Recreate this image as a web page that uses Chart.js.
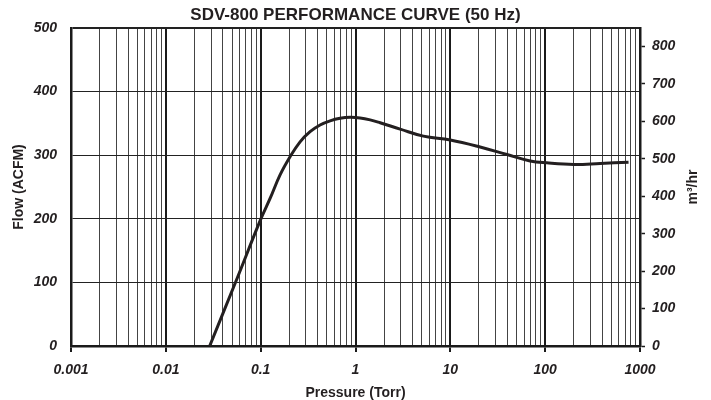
<!DOCTYPE html>
<html>
<head>
<meta charset="utf-8">
<script src="https://cdn.jsdelivr.net/npm/chart.js@4.4.1/dist/chart.umd.min.js"></script>
<style>
  html, body { margin: 0; padding: 0; background: #fff; }
  #wrap { width: 711px; height: 400px; position: relative; }
</style>
</head>
<body>
<div id="wrap"><canvas id="grafico"></canvas></div>
<script>
// valores
const pressaoTorr = [0.029, 0.0546, 0.1, 0.1257, 0.1602, 0.2042, 0.2604, 0.3319, 0.4232, 0.5396, 0.688, 0.877, 1.118, 1.426, 1.818, 2.96, 5.2, 10, 20.6, 39.5, 69.5, 104, 200, 380, 757];
const vazaoACFM = [0, 101, 199, 232, 269, 297.5, 321, 337, 347.5, 354, 358, 359.5, 358.5, 355.5, 351, 341, 330, 324, 313, 301, 291, 288, 285.5, 287, 289];
const ticksVazao = [0, 100, 200, 300, 400, 500];
const ticksM3h = [0, 100, 200, 300, 400, 500, 600, 700, 800];
const decadas = [0.001, 0.01, 0.1, 1, 10, 100, 1000];
const fatorM3h = 1.699; // ACFM -> m3/hr

const fonte = '"Liberation Sans", Arial, sans-serif';
const corTexto = '#231f20';

function ehDecada(v) {
    const l = Math.log10(v);
    return Math.abs(l - Math.round(l)) < 1e-6;
}

// posições das linhas verticais: 1..9 em cada década
function ticksLog() {
    const lista = [];
    for (let i = 0; i < decadas.length - 1; i++) {
        for (let m = 1; m <= 9; m++) {
            const v = +(m * decadas[i]).toPrecision(2);
            lista.push({ value: v, major: m === 1 });
        }
    }
    lista.push({ value: decadas[decadas.length - 1], major: true });
    return lista;
}

const pontos = pressaoTorr.map((p, i) => ({ x: p, y: vazaoACFM[i] }));

const tituloDireita = {
    id: 'tituloDireita',
    afterDraw(chart) {
        const ctx = chart.ctx;
        const area = chart.chartArea;
        ctx.save();
        ctx.translate(chart.width - 18, (area.top + area.bottom) / 2);
        ctx.rotate(-Math.PI / 2);
        ctx.font = 'bold 14px ' + fonte;
        ctx.fillStyle = corTexto;
        ctx.textAlign = 'center';
        ctx.textBaseline = 'middle';
        ctx.fillText('m³/hr', 0, 0);
        ctx.restore();
    }
};

new Chart(document.getElementById('grafico').getContext('2d'), {
    type: 'line',
    data: {
        datasets: [{
            label: 'Flow',
            data: pontos,
            borderColor: '#231f20',
            borderWidth: 3,
            pointRadius: 0,
            tension: 0.4,
            fill: false
        }]
    },
    options: {
        responsive: true,
        maintainAspectRatio: false,
        animation: false,
        layout: { padding: 0 },
        plugins: {
            legend: { display: false },
            tooltip: { enabled: false },
            title: {
                display: true,
                text: 'SDV-800 PERFORMANCE CURVE (50 Hz)',
                color: corTexto,
                font: { family: fonte, size: 17, weight: 'bold', lineHeight: 1 },
                padding: { top: 7, bottom: 4 }
            }
        },
        scales: {
            x: {
                type: 'logarithmic',
                min: 0.001,
                max: 1000,
                afterBuildTicks: (scale) => { scale.ticks = ticksLog(); },
                afterFit: (scale) => { scale.height = 54; },
                ticks: {
                    autoSkip: false,
                    maxRotation: 0,
                    padding: 10,
                    color: corTexto,
                    font: { family: fonte, size: 14, weight: 'bold', style: 'italic' },
                    callback: (v) => ehDecada(v) ? String(Number(Number(v).toPrecision(1))) : ''
                },
                grid: {
                    color: (c) => c.tick && ehDecada(c.tick.value) ? '#1a1a1a' : '#444',
                    lineWidth: (c) => c.tick && ehDecada(c.tick.value) ? 2 : 1,
                    tickColor: (c) => c.tick && ehDecada(c.tick.value) ? '#1a1a1a' : 'rgba(0,0,0,0)',
                    tickLength: 6
                },
                border: { color: '#1a1a1a', width: 2.5 },
                title: {
                    display: true,
                    text: 'Pressure (Torr)',
                    color: corTexto,
                    font: { family: fonte, size: 14, weight: 'bold', lineHeight: 1 },
                    padding: { top: 0, bottom: 0 }
                }
            },
            y: {
                position: 'left',
                min: 0,
                max: 500,
                afterBuildTicks: (scale) => { scale.ticks = ticksVazao.map(v => ({ value: v })); },
                afterFit: (scale) => { scale.width = 71; },
                ticks: {
                    padding: 14,
                    color: corTexto,
                    font: { family: fonte, size: 14, weight: 'bold', style: 'italic' }
                },
                grid: {
                    drawTicks: false,
                    color: '#222',
                    lineWidth: (c) => c.tick && c.tick.value === 500 ? 2 : 1
                },
                border: { color: '#1a1a1a', width: 2.5 },
                title: {
                    display: true,
                    text: 'Flow (ACFM)',
                    color: corTexto,
                    font: { family: fonte, size: 14, weight: 'bold', lineHeight: 1 },
                    padding: { top: 12, bottom: 0 }
                }
            },
            y2: {
                position: 'right',
                min: 0,
                max: 500 * fatorM3h,
                afterBuildTicks: (scale) => { scale.ticks = ticksM3h.map(v => ({ value: v })); },
                afterFit: (scale) => { scale.width = 71; },
                ticks: {
                    padding: 7,
                    color: corTexto,
                    font: { family: fonte, size: 14, weight: 'bold', style: 'italic' }
                },
                grid: {
                    drawOnChartArea: false,
                    drawTicks: true,
                    tickLength: 5,
                    tickColor: '#1a1a1a',
                    tickWidth: 1.5
                },
                border: { color: '#1a1a1a', width: 2.5 }
            }
        }
    },
    plugins: [tituloDireita]
});
</script>
</body>
</html>
